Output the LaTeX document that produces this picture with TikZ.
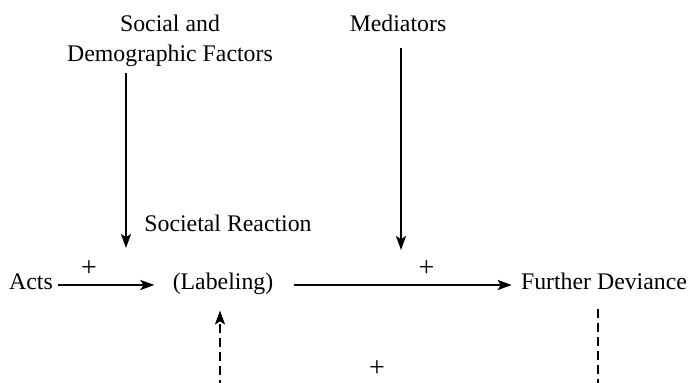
\documentclass[tikz,border=0pt]{standalone}
\usepackage{fontspec}
\setmainfont{Liberation Serif}
\usetikzlibrary{arrows.meta}
\begin{document}
\begin{tikzpicture}[x=0.5pt,y=-0.5pt,
  lbl/.style={inner sep=0pt, anchor=base, font=\fontsize{11.9}{14}\selectfont},
  plus/.style={inner sep=0pt, anchor=base, font=\fontsize{14}{16}\selectfont},
  arr/.style={line width=1.1pt, -{Stealth[length=7pt,width=5pt,inset=1.6pt]}},
  dsh/.style={dash pattern=on 4.5pt off 2.5pt}]
\useasboundingbox (0,0) rectangle (696,383);
\clip (0,0) rectangle (696,383);
\node[lbl] (soc1) at (170,32) {Social and};
\node[lbl] (soc) at (170,62) {Demographic Factors};
\node[lbl] (med) at (398,32) {Mediators};
\node[lbl] (reac) at (228,232) {Societal Reaction};
\node[lbl] (acts) at (31,290) {Acts};
\node[lbl] (lab) at (223,290) {(Labeling)};
\node[lbl] (fd) at (604,290) {Further Deviance};
\coordinate (t1) at (126,248);
\coordinate (t2) at (401,250);
\coordinate (c1) at (598,398);
\coordinate (c2) at (220,398);
\draw[arr] ([yshift=-2.5pt]soc.south -| t1) -- (t1);
\draw[arr] ([yshift=-7.5pt]med.south -| t2) -- (t2);
\draw[arr] ([xshift=2.5pt,yshift=2.5pt]acts.base east) -- ([xshift=-9pt,yshift=2.5pt]lab.base west)
  node[plus, pos=0.32, yshift=4pt] (p1) {+};
\draw[arr] ([xshift=10pt,yshift=2.5pt]lab.base east) -- ([xshift=-4.5pt,yshift=2.5pt]fd.base west)
  node[plus, pos=0.61, yshift=4pt] (p2) {+};
\draw[arr,dsh] ([yshift=-9pt]fd.south -| c1) -- (c1) -- (c2) -- ([yshift=-7.5pt]lab.south -| c2);
\node[plus] (p3) at (377,377) {+};
\end{tikzpicture}
\end{document}
